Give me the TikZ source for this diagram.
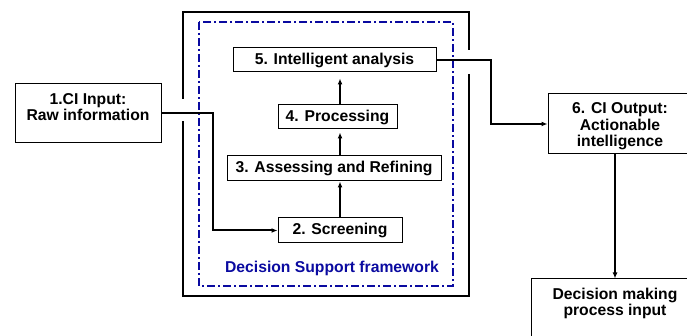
\documentclass[tikz,border=0pt]{standalone}
\usepackage{fontspec}
\setmainfont{Liberation Sans}
\usetikzlibrary{arrows.meta,calc}
\definecolor{dsblue}{RGB}{10,10,160}
\begin{document}
\begin{tikzpicture}[x=1pt,y=-1pt,
 box/.style={draw=black,line width=1pt,fill=white,inner sep=0pt,font=\fontsize{15.7}{16.5}\selectfont\bfseries},
 lbl/.style={align=center,inner sep=0pt,font=\fontsize{15.7}{16.5}\selectfont\bfseries},
 conn/.style={line width=2pt},
 arr/.style={conn,-{Latex[length=6pt,width=5pt]}},
 outerframe/.style={line width=2.6pt},
 dsframe/.style={draw=dsblue,line width=2.2pt,dash pattern=on 8pt off 3pt on 2pt off 3pt}]
\useasboundingbox (0,0) rectangle (687,336);
\clip (0,0) rectangle (687,336);

% frames
\draw[outerframe] (183,99) -- (183,12) -- (469,12) -- (469,50);
\draw[outerframe] (469,74) -- (469,296) -- (183,296) -- (183,121);
\draw[dsframe] (199,22) rectangle (453,286);

% nodes
\node[box,minimum width=203pt,minimum height=24pt] (n5) at (334.5,60) {5. Intelligent analysis};
\node[box,minimum width=119pt,minimum height=24pt] (n4) at (337.5,117) {4. Processing};
\node[box,minimum width=214pt,minimum height=25pt] (n3) at (334,168.5) {3. Assessing and Refining};
\node[box,minimum width=124pt,minimum height=25pt] (n2) at (340,230.5) {2. Screening};
\node[box,minimum width=146pt,minimum height=59pt] (n1) at (88,113.5) {};
\node[lbl] (n1t) at (88,107) {1.CI Input:\\Raw information};
\node[box,minimum width=144pt,minimum height=60pt] (n6) at (620,124) {};
\node[lbl] (n6t) at (620,126.5) {6. CI Output:\\Actionable\\intelligence};
\node[box,minimum width=168pt,minimum height=62pt] (n7) at (615,310) {};
\node[lbl] (n7t) at (615,303.5) {Decision making\\process input};
\node[lbl,text=dsblue] (dsl) at (332,268) {Decision Support framework};

% helper coordinates
\coordinate (c1) at (213,0);
\coordinate (c2) at (491,0);
\coordinate (c3) at (615,0);
\coordinate (c4) at (340,0);

% connectors
\draw[arr] (n1.east) -| (c1 |- n2.west) -- (n2.west);
\draw[arr] (c4 |- n2.north) -- (c4 |- n3.south);
\draw[arr,shorten >=3pt] (c4 |- n3.north) -- (c4 |- n4.south);
\draw[arr,shorten >=6pt] (c4 |- n4.north) -- (c4 |- n5.south);
\draw[arr] (n5.east) -| (c2 |- n6.west) -- (n6.west);
\draw[arr] (c3 |- n6.south) -- (c3 |- n7.north);
\end{tikzpicture}
\end{document}
